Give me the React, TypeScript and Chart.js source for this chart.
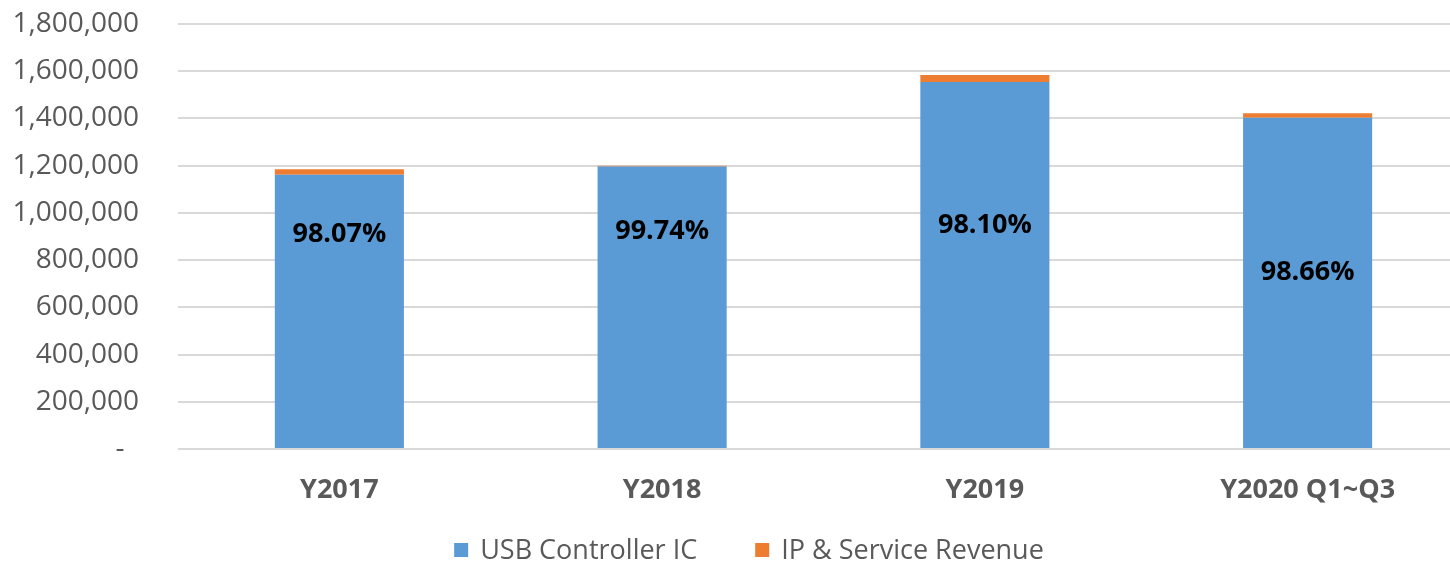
import React, { useEffect, useRef } from "react";
import { Chart, registerables } from "chart.js";

Chart.register(...registerables);

const categories = ["Y2017", "Y2018", "Y2019", "Y2020 Q1~Q3"];
const seriesNames = ["USB Controller IC", "IP & Service Revenue"];
const usbController = [1162000, 1196900, 1553900, 1402700];
const ipService = [22900, 3100, 30100, 19100];
const shareLabels = ["98.07%", "99.74%", "98.10%", "98.66%"];
const shareLabelAt = [910000, 923000, 949000, 750000];
const yMax = 1800000;
const yStep = 200000;

const FONT = "'Open Sans', 'Liberation Sans', sans-serif";
const BLUE = "#5B9BD5";
const ORANGE = "#ED7D31";
const GREY_TEXT = "#595959";

const shareLabelPlugin = {
  id: "shareLabels",
  afterDatasetsDraw(chart: any) {
    const ctx = chart.ctx;
    const meta = chart.getDatasetMeta(0);
    const yScale = chart.scales.y;
    ctx.save();
    ctx.font = `bold 27px ${FONT}`;
    ctx.fillStyle = "#000000";
    ctx.textAlign = "center";
    ctx.textBaseline = "middle";
    meta.data.forEach((el: any, i: number) => {
      ctx.fillText(shareLabels[i], el.x, yScale.getPixelForValue(shareLabelAt[i]));
    });
    ctx.restore();
  },
};

const legendPlugin = {
  id: "bottomLegend",
  afterDraw(chart: any) {
    const ctx = chart.ctx;
    ctx.save();
    ctx.font = `27px ${FONT}`;
    ctx.textBaseline = "middle";
    ctx.textAlign = "left";
    const box = 14;
    const textGap = 12;
    const itemGap = 58;
    const items = chart.data.datasets.map((ds: any) => ({
      text: ds.label as string,
      color: ds.backgroundColor as string,
    }));
    const widths = items.map((it: any) => box + textGap + ctx.measureText(it.text).width);
    const total = widths.reduce((a: number, b: number) => a + b, 0) + itemGap * (items.length - 1);
    let x = chart.width / 2 - total / 2;
    const y = chart.height - 14;
    items.forEach((it: any, i: number) => {
      ctx.fillStyle = it.color;
      ctx.fillRect(x, y - box / 2, box, box);
      ctx.fillStyle = GREY_TEXT;
      ctx.fillText(it.text, x + box + textGap, y + 1);
      x += widths[i] + itemGap;
    });
    ctx.restore();
  },
};

export default function App() {
  const ref = useRef<HTMLCanvasElement>(null);

  useEffect(() => {
    if (!ref.current) return;
    const chart = new Chart(ref.current, {
      type: "bar",
      data: {
        labels: categories,
        datasets: [
          {
            label: seriesNames[0],
            data: usbController,
            backgroundColor: BLUE,
            barPercentage: 0.4,
            categoryPercentage: 1,
          },
          {
            label: seriesNames[1],
            data: ipService,
            backgroundColor: ORANGE,
            barPercentage: 0.4,
            categoryPercentage: 1,
          },
        ],
      },
      options: {
        responsive: false,
        animation: false,
        layout: { padding: { left: 0, right: 29, top: 24, bottom: 32.6 } },
        plugins: {
          legend: { display: false },
          tooltip: { enabled: false },
        },
        scales: {
          x: {
            stacked: true,
            grid: { display: false, drawTicks: false },
            border: { display: false },
            ticks: {
              padding: 25,
              color: GREY_TEXT,
              font: { family: FONT, size: 27, weight: "bold" },
            },
          },
          y: {
            stacked: true,
            min: 0,
            max: yMax,
            grid: {
              color: "#d9d9d9",
              lineWidth: 2,
              drawTicks: true,
              tickLength: 36,
              tickColor: "rgba(0,0,0,0)",
            },
            border: { display: false },
            ticks: {
              stepSize: yStep,
              padding: 3,
              color: GREY_TEXT,
              font: { family: FONT, size: 28 },
              callback: (v: any) => (Number(v) === 0 ? "-  " : Number(v).toLocaleString("en-US")),
            },
            afterFit: (s: any) => {
              s.width = 178;
            },
          },
        },
      },
      plugins: [shareLabelPlugin, legendPlugin],
    } as any);
    return () => chart.destroy();
  }, []);

  return (
    <div
      style={{
        position: "absolute",
        left: 0,
        top: 0,
        width: 1450,
        height: 564,
        overflow: "hidden",
        background: "#ffffff",
      }}
    >
      <canvas ref={ref} width={1498} height={564} style={{ display: "block", width: 1498, height: 564 }} />
    </div>
  );
}
